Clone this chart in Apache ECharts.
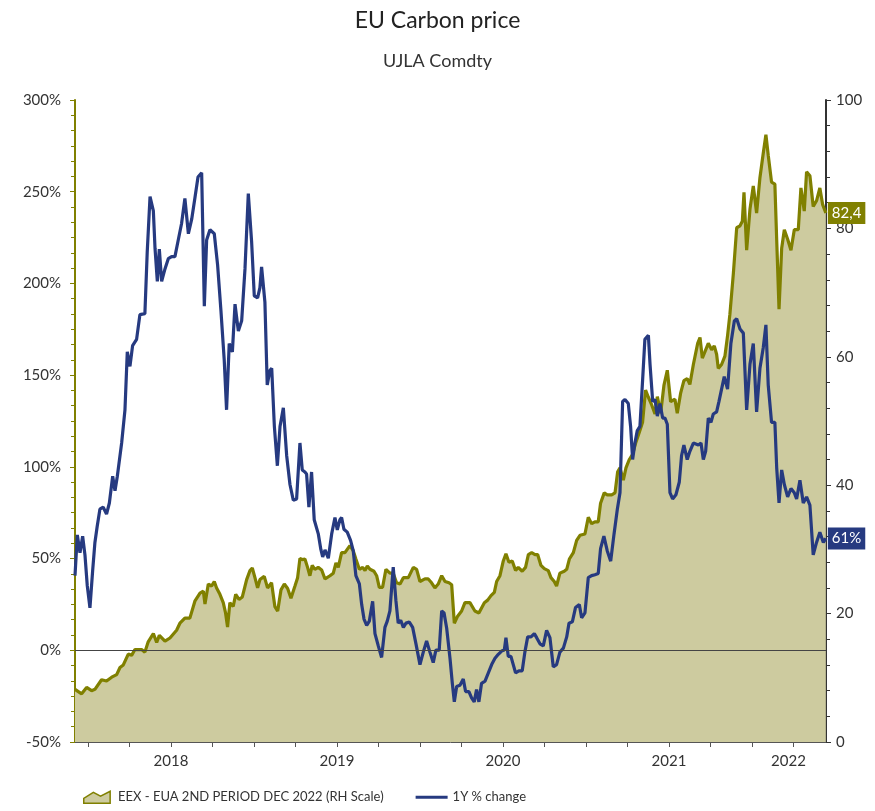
<!DOCTYPE html>
<html>
<head>
<meta charset="utf-8">
<title>EU Carbon price</title>
<script src="https://cdn.jsdelivr.net/npm/echarts@6/dist/echarts.min.js"></script>
<style>
  html, body { margin: 0; padding: 0; background: #fff; }
  #chart { width: 875px; height: 811px; }
</style>
</head>
<body>
<div id="chart"></div>
<script>
// x values are decimal years (2018.5 = mid 2018)
const eexYears = [
  2017.922, 2017.962, 2017.992, 2018.022, 2018.042, 2018.082, 2018.112, 2018.143, 2018.173, 2018.193,
  2018.213, 2018.243, 2018.263, 2018.283, 2018.323, 2018.343, 2018.363, 2018.394, 2018.414, 2018.430,
  2018.464, 2018.494, 2018.534, 2018.554, 2018.584, 2018.614, 2018.645, 2018.675, 2018.695, 2018.705,
  2018.725, 2018.745, 2018.761, 2018.775, 2018.795, 2018.815, 2018.829, 2018.841, 2018.855, 2018.875,
  2018.890, 2018.910, 2018.930, 2018.956, 2018.976, 2018.990, 2019.006, 2019.022, 2019.036, 2019.062,
  2019.082, 2019.106, 2019.126, 2019.143, 2019.163, 2019.183, 2019.203, 2019.223, 2019.247, 2019.263,
  2019.277, 2019.291, 2019.307, 2019.323, 2019.337, 2019.351, 2019.367, 2019.387, 2019.408, 2019.428,
  2019.458, 2019.478, 2019.494, 2019.508, 2019.528, 2019.548, 2019.578, 2019.598, 2019.614, 2019.635,
  2019.655, 2019.669, 2019.683, 2019.699, 2019.723, 2019.739, 2019.755, 2019.775, 2019.795, 2019.819,
  2019.839, 2019.859, 2019.880, 2019.900, 2019.930, 2019.960, 2019.980, 2020.000, 2020.030, 2020.050,
  2020.070, 2020.090, 2020.110, 2020.131, 2020.151, 2020.175, 2020.191, 2020.207, 2020.227, 2020.251,
  2020.271, 2020.301, 2020.311, 2020.331, 2020.355, 2020.367, 2020.388, 2020.408, 2020.428, 2020.448,
  2020.462, 2020.482, 2020.502, 2020.518, 2020.536, 2020.556, 2020.576, 2020.592, 2020.616, 2020.636,
  2020.653, 2020.673, 2020.693, 2020.709, 2020.729, 2020.749, 2020.773, 2020.789, 2020.809, 2020.823,
  2020.843, 2020.869, 2020.884, 2020.900, 2020.924, 2020.944, 2020.964, 2020.994, 2021.014, 2021.034,
  2021.054, 2021.074, 2021.088, 2021.110, 2021.128, 2021.155, 2021.175, 2021.191, 2021.205, 2021.225,
  2021.241, 2021.261, 2021.281, 2021.301, 2021.321, 2021.341, 2021.359, 2021.376, 2021.396, 2021.416,
  2021.430, 2021.450, 2021.470, 2021.490, 2021.510, 2021.536, 2021.550, 2021.570, 2021.590, 2021.610,
  2021.626, 2021.647, 2021.673, 2021.687, 2021.701, 2021.717, 2021.737, 2021.757, 2021.773, 2021.787,
  2021.797, 2021.817, 2021.837, 2021.853, 2021.867, 2021.888, 2021.908, 2021.928, 2021.942, 2021.952,
  2021.968, 2021.988, 2022.008, 2022.028, 2022.048, 2022.068, 2022.084, 2022.098, 2022.118, 2022.138,
  2022.149, 2022.163, 2022.179, 2022.195, 2022.215, 2022.235, 2022.255, 2022.279, 2022.295, 2022.315,
  2022.329, 2022.349, 2022.369, 2022.389, 2022.409, 2022.426, 2022.445
];
const eexPrice = [
  8.2, 7.5, 8.5, 8.0, 8.2, 9.7, 9.5, 10.1, 10.5, 11.6,
  12.0, 13.7, 13.5, 14.4, 14.4, 14.0, 15.6, 16.9, 15.5, 16.6,
  15.7, 16.2, 17.4, 18.5, 19.3, 19.3, 22.0, 23.2, 23.5, 21.5,
  24.6, 24.3, 25.0, 24.0, 23.0, 21.7, 20.1, 17.9, 21.7, 21.1,
  23.0, 22.2, 22.6, 25.3, 26.7, 27.1, 25.6, 24.0, 25.3, 25.8,
  24.0, 24.8, 21.1, 20.4, 23.7, 24.6, 23.9, 22.4, 24.3, 25.6,
  28.6, 28.4, 28.5, 27.2, 25.9, 27.5, 26.9, 27.2, 26.8, 25.4,
  25.9, 26.3, 27.9, 27.2, 29.5, 29.5, 30.6, 29.8, 28.5, 26.9,
  27.2, 26.7, 27.4, 26.9, 26.6, 25.9, 24.1, 24.1, 26.9, 26.3,
  26.3, 24.8, 24.6, 25.6, 25.6, 27.2, 26.9, 25.0, 25.4, 25.4,
  24.8, 24.0, 24.6, 25.9, 25.0, 24.8, 24.5, 18.5, 19.6, 20.4,
  21.7, 21.7, 21.5, 20.4, 20.1, 19.8, 21.7, 22.1, 22.8, 23.3,
  25.0, 25.9, 28.2, 29.3, 28.0, 28.2, 26.7, 27.2, 26.6, 27.2,
  29.2, 29.5, 29.2, 29.2, 27.5, 27.0, 26.7, 25.6, 25.0, 24.3,
  26.3, 26.6, 26.9, 28.5, 29.5, 31.4, 32.2, 32.4, 35.0, 34.0,
  34.3, 34.3, 37.2, 38.8, 38.5, 38.5, 38.8, 42.1, 42.7, 40.8,
  42.7, 44.0, 44.8, 46.7, 48.2, 49.8, 54.8, 53.7, 52.5, 51.1,
  53.8, 51.2, 55.6, 57.9, 53.0, 53.4, 51.2, 54.3, 56.3, 56.6,
  55.7, 58.8, 62.1, 63.0, 59.8, 60.8, 62.1, 61.1, 61.7, 60.4,
  58.2, 58.8, 60.1, 63.3, 66.6, 73.0, 80.1, 80.4, 81.1, 85.6,
  76.6, 83.0, 86.6, 82.4, 87.9, 91.7, 94.6, 91.4, 87.2, 86.9,
  78.2, 67.4, 76.9, 79.8, 78.3, 76.6, 79.8, 79.8, 86.3, 82.7,
  88.8, 88.2, 83.4, 84.3, 86.3, 83.7, 82.4
];

const chgYears = [
  2017.922, 2017.936, 2017.952, 2017.968, 2017.982, 2017.996, 2018.012, 2018.028, 2018.042, 2018.056,
  2018.072, 2018.092, 2018.112, 2018.129, 2018.149, 2018.163, 2018.177, 2018.203, 2018.223, 2018.237,
  2018.253, 2018.269, 2018.293, 2018.313, 2018.343, 2018.357, 2018.374, 2018.394, 2018.404, 2018.418,
  2018.430, 2018.444, 2018.464, 2018.484, 2018.504, 2018.524, 2018.544, 2018.564, 2018.584, 2018.605,
  2018.625, 2018.645, 2018.663, 2018.685, 2018.701, 2018.715, 2018.735, 2018.761, 2018.781, 2018.801,
  2018.821, 2018.835, 2018.851, 2018.870, 2018.886, 2018.906, 2018.926, 2018.946, 2018.966, 2018.986,
  2019.002, 2019.022, 2019.036, 2019.046, 2019.066, 2019.080, 2019.096, 2019.107, 2019.123, 2019.141,
  2019.157, 2019.177, 2019.197, 2019.217, 2019.237, 2019.257, 2019.277, 2019.291, 2019.307, 2019.317,
  2019.331, 2019.347, 2019.363, 2019.388, 2019.403, 2019.414, 2019.428, 2019.448, 2019.468, 2019.488,
  2019.502, 2019.518, 2019.528, 2019.542, 2019.562, 2019.582, 2019.598, 2019.614, 2019.635, 2019.649,
  2019.663, 2019.679, 2019.695, 2019.715, 2019.729, 2019.749, 2019.769, 2019.789, 2019.803, 2019.819,
  2019.839, 2019.855, 2019.869, 2019.884, 2019.900, 2019.916, 2019.936, 2019.956, 2019.976, 2020.000,
  2020.020, 2020.040, 2020.060, 2020.080, 2020.096, 2020.116, 2020.131, 2020.145, 2020.161, 2020.181,
  2020.195, 2020.207, 2020.221, 2020.241, 2020.261, 2020.275, 2020.295, 2020.311, 2020.327, 2020.341,
  2020.355, 2020.371, 2020.392, 2020.412, 2020.432, 2020.452, 2020.472, 2020.492, 2020.508, 2020.518,
  2020.532, 2020.548, 2020.562, 2020.576, 2020.596, 2020.616, 2020.632, 2020.649, 2020.669, 2020.689,
  2020.703, 2020.723, 2020.743, 2020.763, 2020.783, 2020.803, 2020.823, 2020.843, 2020.864, 2020.884,
  2020.898, 2020.918, 2020.937, 2020.960, 2020.974, 2020.994, 2021.014, 2021.034, 2021.054, 2021.074,
  2021.088, 2021.108, 2021.128, 2021.149, 2021.169, 2021.189, 2021.205, 2021.221, 2021.235, 2021.255,
  2021.269, 2021.281, 2021.295, 2021.309, 2021.325, 2021.341, 2021.355, 2021.376, 2021.386, 2021.402,
  2021.416, 2021.430, 2021.446, 2021.462, 2021.476, 2021.490, 2021.506, 2021.522, 2021.542, 2021.562,
  2021.576, 2021.590, 2021.610, 2021.626, 2021.647, 2021.677, 2021.693, 2021.707, 2021.721, 2021.737,
  2021.753, 2021.767, 2021.787, 2021.801, 2021.817, 2021.833, 2021.853, 2021.873, 2021.894, 2021.908,
  2021.928, 2021.948, 2021.968, 2021.988, 2022.008, 2022.028, 2022.048, 2022.068, 2022.084, 2022.098,
  2022.118, 2022.138, 2022.149, 2022.163, 2022.179, 2022.195, 2022.215, 2022.235, 2022.255, 2022.269,
  2022.289, 2022.309, 2022.329, 2022.349, 2022.369, 2022.389, 2022.409, 2022.430, 2022.445
];
const chgPct = [
  40.7, 62.9, 53.2, 62.2, 52.0, 35.1, 23.1, 43.0, 58.8, 67.8,
  76.9, 78.0, 74.2, 80.3, 94.9, 87.0, 94.9, 113.0, 131.1, 162.7,
  154.8, 166.1, 169.5, 183.0, 183.5, 216.9, 247.4, 239.5, 219.2, 201.1,
  218.7, 201.1, 207.9, 213.5, 214.6, 214.6, 223.7, 232.7, 246.3, 227.1,
  235.0, 247.0, 258.0, 260.3, 187.6, 223.7, 229.3, 227.1, 210.1, 185.3,
  158.2, 131.1, 167.2, 162.7, 188.7, 174.0, 179.6, 207.9, 249.0, 222.6,
  193.2, 192.1, 197.7, 209.0, 189.8, 144.6, 152.5, 153.7, 122.0, 100.6,
  122.0, 132.2, 106.2, 90.4, 81.8, 82.5, 113.0, 98.3, 97.2, 96.1,
  78.0, 97.2, 71.2, 63.3, 55.0, 50.9, 54.7, 50.2, 63.3, 72.4,
  65.6, 71.2, 72.4, 66.0, 64.4, 59.9, 54.3, 40.7, 36.2, 24.9,
  17.0, 13.6, 15.9, 26.7, 9.1, 2.4, -3.9, 12.5, 15.9, 21.5,
  45.3, 27.2, 14.8, 16.4, 12.5, 14.8, 15.4, 12.5, 3.5, -7.8,
  -1.0, 5.1, -1.0, -6.7, 0.1, 0.1, 21.5, 20.4, 12.0, -4.4,
  -18.0, -28.1, -19.8, -19.1, -15.7, -22.5, -22.5, -25.9, -28.1, -21.4,
  -28.1, -18.0, -16.8, -12.3, -7.8, -4.4, -2.2, -0.4, 0.1, 6.9,
  -3.3, -3.3, -7.8, -12.3, -11.2, -11.2, -1.0, 7.3, 7.3, 9.1,
  6.9, 3.5, 2.4, 10.9, 6.9, -9.0, -7.8, -1.0, 1.2, 7.3,
  14.8, 15.5, 23.3, 24.9, 17.7, 20.4, 39.6, 40.7, 41.2, 41.9,
  55.4, 62.2, 54.3, 48.6, 63.3, 76.9, 85.9, 135.6, 136.7, 134.5,
  122.0, 104.0, 113.0, 119.8, 122.0, 146.9, 169.5, 171.7, 155.9, 135.6,
  136.7, 127.7, 134.5, 126.6, 126.6, 123.2, 85.9, 82.5, 84.8, 91.6,
  106.2, 111.9, 104.0, 108.5, 113.0, 111.9, 113.0, 104.0, 108.5, 126.6,
  124.3, 128.8, 130.0, 135.6, 142.4, 149.2, 142.4, 167.2, 179.6, 180.8,
  175.1, 172.9, 131.1, 155.9, 167.2, 130.0, 153.7, 165.0, 177.4, 144.6,
  124.3, 124.3, 99.5, 80.3, 98.3, 90.4, 83.6, 88.2, 85.9, 82.5,
  92.7, 80.3, 83.6, 79.1, 52.0, 58.8, 64.4, 58.8, 61
];

const quarterTicks = [
  2018, 2018.25, 2018.5, 2018.75, 2019, 2019.25, 2019.5, 2019.75,
  2020, 2020.25, 2020.5, 2020.75, 2021, 2021.25, 2021.5, 2021.75,
  2022, 2022.25
];
// year labels sit in the middle of the visible part of each year
const yearLabelPos = [2018.5, 2019.5, 2020.5, 2021.5, 2022.22];

const OLIVE = '#808000';
const AREA = '#cdcb9f';
const NAVY = '#263a80';
const FONT = 'Lato, "Noto Sans", sans-serif';

const chart = echarts.init(document.getElementById('chart'));

const option = {
  textStyle: { fontFamily: FONT },
  animation: false,
  title: {
    text: 'EU Carbon price',
    subtext: 'UJLA Comdty',
    left: 'center',
    top: 4,
    itemGap: 20,
    textStyle: { fontFamily: FONT, fontSize: 23, fontWeight: 'normal', color: '#222' },
    subtextStyle: { fontFamily: FONT, fontSize: 18, color: '#333' }
  },
  legend: {
    bottom: 2,
    left: 78,
    itemGap: 32,
    itemWidth: 32,
    itemHeight: 12,
    textStyle: { fontFamily: FONT, fontSize: 13, color: '#333' },
    data: [
      {
        name: 'EEX - EUA 2ND PERIOD DEC 2022 (RH Scale)',
        icon: 'path://M0,10 L0,6 L8,1 L14,4 L22,0 L22,10 Z',
        itemStyle: { color: AREA, borderColor: OLIVE, borderWidth: 1.5 }
      },
      {
        name: '1Y % change',
        icon: 'path://M0,0 L30,0 L30,3 L0,3 Z',
        itemStyle: { color: NAVY, borderWidth: 0 }
      }
    ]
  },
  grid: { left: 75, right: 49, top: 100, bottom: 69 },
  xAxis: {
    type: 'value',
    min: 2017.922,
    max: 2022.446,
    splitLine: { show: false },
    axisLine: { show: true, onZero: false, lineStyle: { color: '#555', width: 1 } },
    axisTick: { show: true, customValues: quarterTicks, length: 5, lineStyle: { color: '#555' } },
    axisLabel: {
      customValues: yearLabelPos,
      formatter: (v) => String(Math.floor(v)),
      fontSize: 15,
      color: '#333',
      margin: 12
    }
  },
  yAxis: [
    {
      type: 'value',
      min: -50,
      max: 300,
      interval: 50,
      splitLine: { show: false },
      axisLine: { show: true, lineStyle: { color: OLIVE, width: 2 } },
      axisTick: { show: true, length: 5, lineStyle: { color: OLIVE } },
      minorTick: { show: true, splitNumber: 6, length: 4, lineStyle: { color: OLIVE } },
      axisLabel: { formatter: '{value}%', fontSize: 15, color: '#333', margin: 14 }
    },
    {
      type: 'value',
      min: 0,
      max: 100,
      interval: 20,
      position: 'right',
      splitLine: { show: false },
      axisLine: { show: true, lineStyle: { color: '#333', width: 2 } },
      axisTick: { show: true, length: 5, lineStyle: { color: '#333' } },
      minorTick: { show: true, splitNumber: 5, length: 4, lineStyle: { color: '#333' } },
      axisLabel: { fontSize: 15, color: '#333', margin: 10 }
    }
  ],
  series: [
    {
      name: 'EEX - EUA 2ND PERIOD DEC 2022 (RH Scale)',
      type: 'line',
      yAxisIndex: 1,
      symbol: 'none',
      data: eexYears.map((x, i) => [x, eexPrice[i]]),
      lineStyle: { color: OLIVE, width: 3.2 },
      itemStyle: { color: OLIVE },
      areaStyle: { color: AREA, opacity: 1 },
      z: 2,
      endLabel: {
        show: true,
        distance: 2,
        formatter: (p) => p.value[1].toFixed(1).replace('.', ','),
        backgroundColor: OLIVE,
        color: '#fff',
        fontSize: 15,
        padding: [4, 4, 3, 4]
      }
    },
    {
      name: '1Y % change',
      type: 'line',
      yAxisIndex: 0,
      symbol: 'none',
      data: chgYears.map((x, i) => [x, chgPct[i]]),
      lineStyle: { color: NAVY, width: 3.2 },
      itemStyle: { color: NAVY },
      z: 3,
      endLabel: {
        show: true,
        distance: 2,
        formatter: (p) => Math.round(p.value[1]) + '%',
        backgroundColor: NAVY,
        color: '#fff',
        fontSize: 15,
        padding: [4, 4, 3, 4]
      },
      markLine: {
        silent: true,
        symbol: 'none',
        label: { show: false },
        lineStyle: { color: '#444', width: 1, type: 'solid' },
        data: [{ yAxis: 0 }]
      }
    }
  ]
};

chart.setOption(option);
window.addEventListener('resize', () => chart.resize());
</script>
</body>
</html>
